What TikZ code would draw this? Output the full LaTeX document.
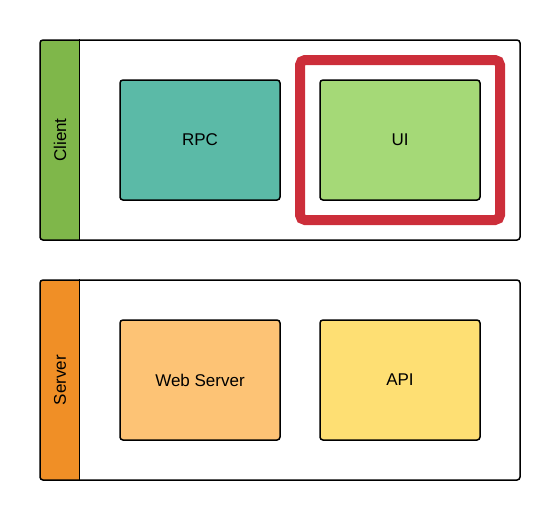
\documentclass[tikz,border=0pt]{standalone}
\usepackage{fontspec}
\setmainfont{Liberation Sans}
\usepackage{xcolor}
\usepackage{tikz}

\definecolor{clientgreen}{HTML}{7FB74A}
\definecolor{rpcteal}{HTML}{5BBAA7}
\definecolor{uigreen}{HTML}{A5D977}
\definecolor{serverorange}{HTML}{F08F26}
\definecolor{weborange}{HTML}{FDC375}
\definecolor{apiyellow}{HTML}{FEDF73}
\definecolor{focusred}{HTML}{CC2E3A}

\tikzset{
  layerbox/.style={draw=black, line width=1.5pt, rounded corners=3pt,
    minimum width=480pt, minimum height=200pt, inner sep=0pt},
  compbox/.style={draw=black, line width=1.5pt, rounded corners=3pt,
    minimum width=160pt, minimum height=120pt, inner sep=0pt,
    font=\fontsize{17}{20}\selectfont},
  layerlabel/.style={rotate=90, font=\fontsize{17}{20}\selectfont, inner sep=0pt},
  focusframe/.style={draw=focusred, line width=10pt, rounded corners=5pt,
    minimum width=200pt, minimum height=160pt, inner sep=0pt}
}

\begin{document}
\begin{tikzpicture}[x=1pt,y=-1pt]
  \useasboundingbox (0,0) rectangle (560,520);

  % Her katman: {etiket, şerit rengi, sol kutu, sol renk, sağ kutu, sağ renk}
  \foreach \lyrlabel/\stripcol/\lefttext/\leftcol/\righttext/\rightcol [count=\i] in {
    Client/clientgreen/RPC/rpcteal/UI/uigreen,
    Server/serverorange/Web Server/weborange/API/apiyellow%
  }{
    \pgfmathsetmacro{\ymid}{140+240*(\i-1)}

    % Sol şerit (katman rengi)
    \begin{scope}
      \clip[rounded corners=3pt] (40,\ymid-100) rectangle (520,\ymid+100);
      \fill[\stripcol] (40,\ymid-100) rectangle (80,\ymid+100);
    \end{scope}

    % Katman çerçevesi ve şerit ayırıcı
    \node[layerbox] (layer\i) at (280,\ymid) {};
    \draw[line width=1.5pt] (layer\i.north west) ++(40,0) coordinate (split\i)
      -- (split\i |- layer\i.south);
    \node[layerlabel] (layerlbl\i) at (60,\ymid) {\lyrlabel};

    % Bileşen kutuları
    \node[compbox, fill=\leftcol] (left\i) at (200,\ymid) {\lefttext};
    \node[compbox, fill=\rightcol] (right\i) at (400,\ymid) {\righttext};
  }

  % Vurgulanan bileşen
  \node[focusframe] (focus) at (right1) {};

\end{tikzpicture}
\end{document}
